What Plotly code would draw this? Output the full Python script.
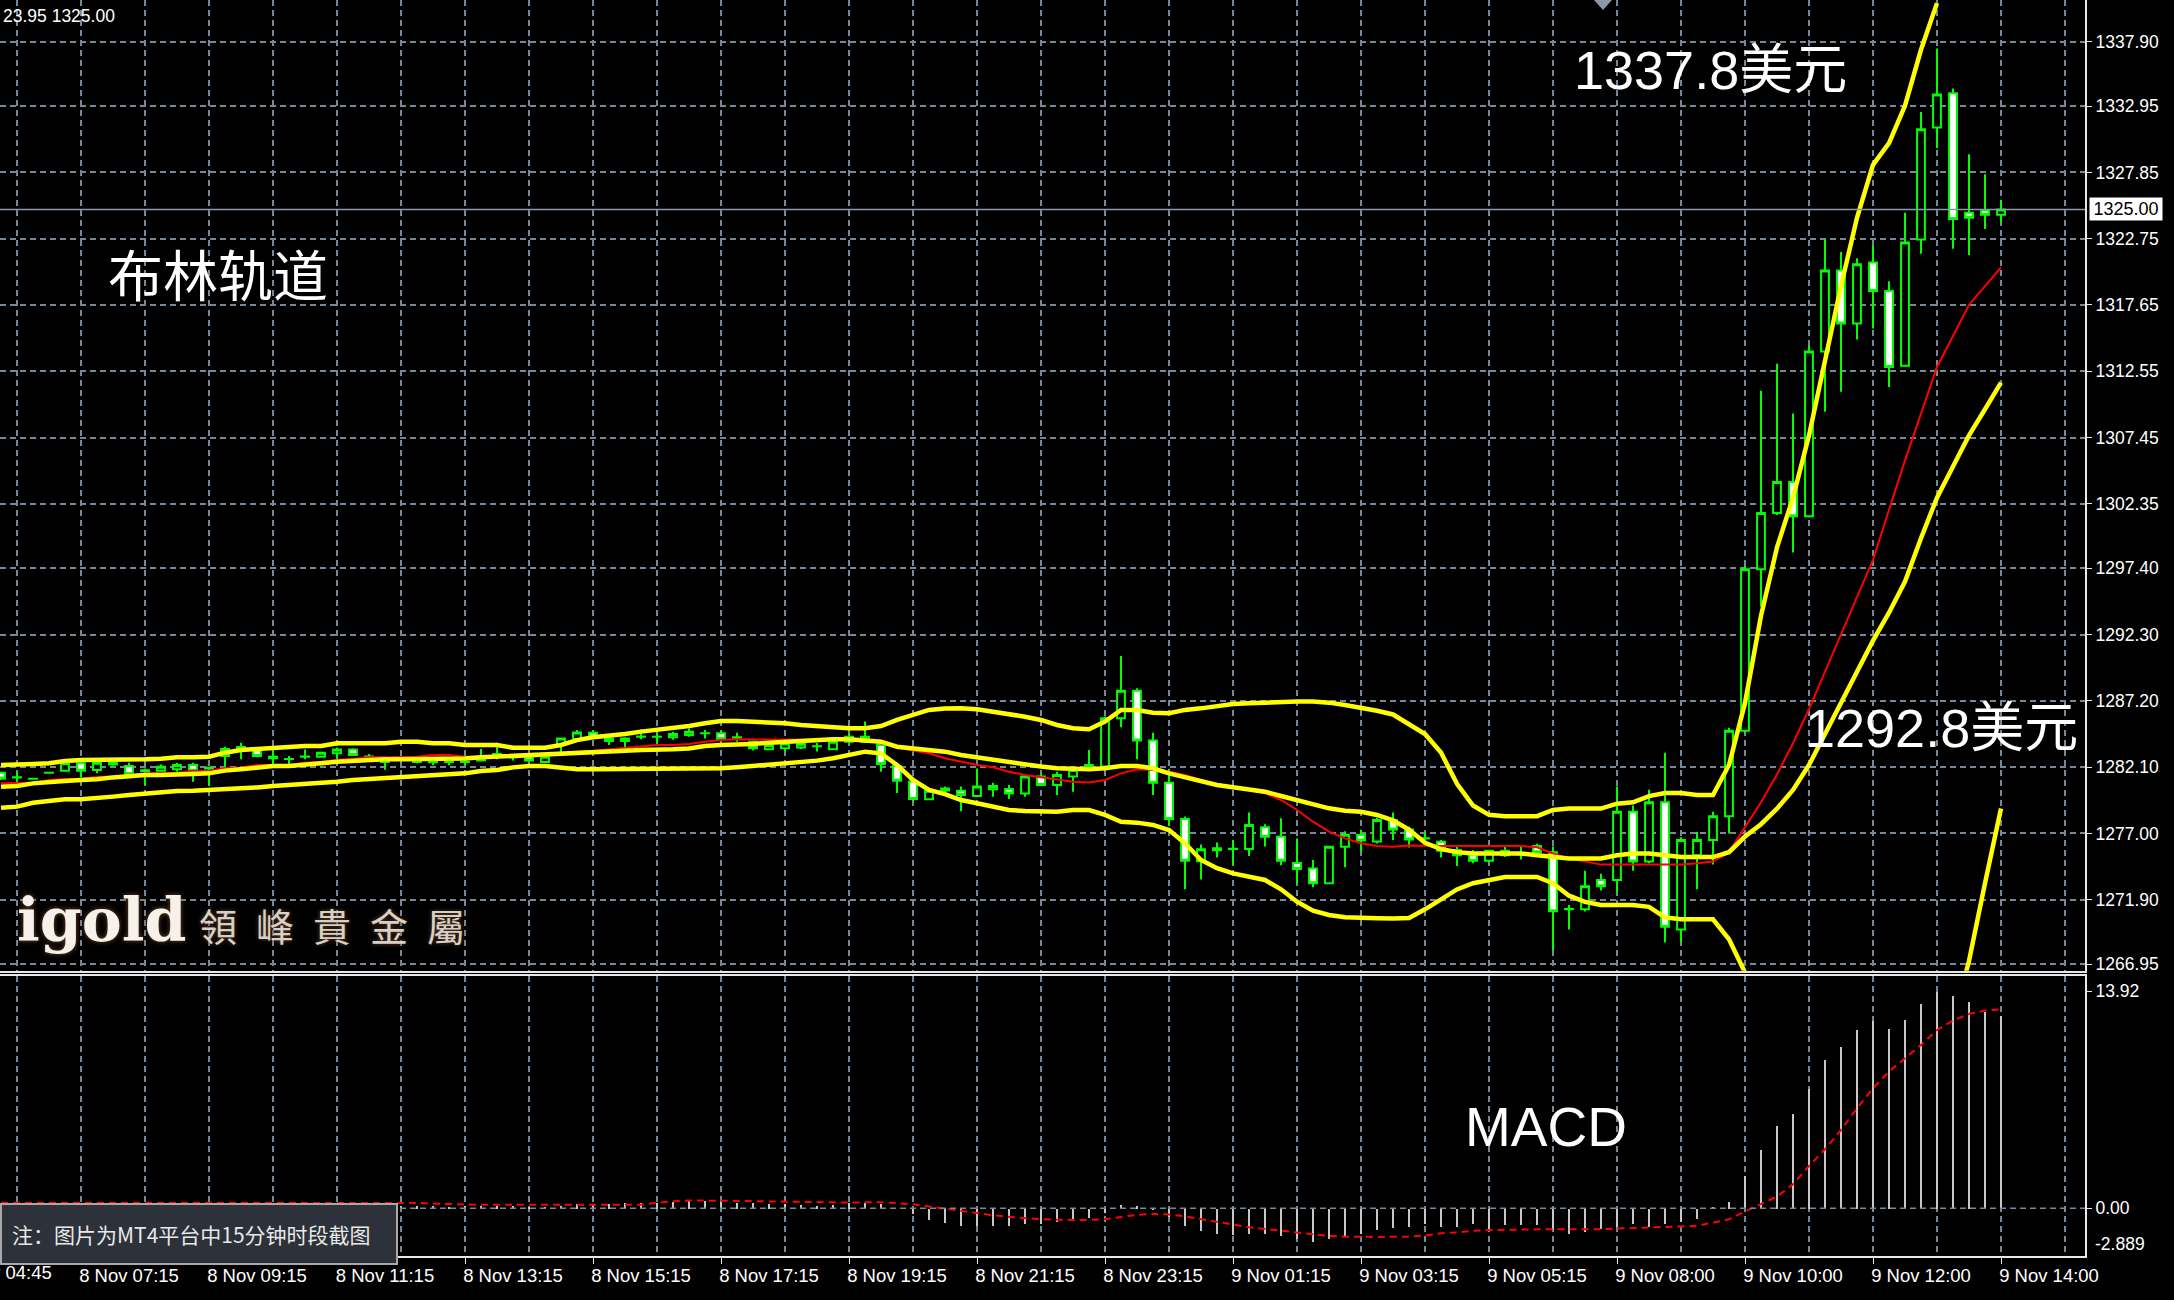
import plotly.graph_objects as go

W, H = 2174, 1300

# ---------------- data (15-minute bars, index 0..125) ----------------
opens = [1281.67,1281.30,1281.21,1281.67,1281.82,1282.39,1281.88,1282.30,1282.18,1281.85,
         1281.82,1281.93,1282.26,1282.00,1282.95,1283.50,1283.40,1282.90,1282.72,1282.90,
         1282.90,1283.16,1283.46,1282.90,1282.60,1282.70,1282.50,1282.50,1282.50,1282.50,
         1282.60,1283.10,1282.90,1282.90,1282.50,1283.80,1284.26,1284.74,1284.10,1284.10,
         1284.44,1284.44,1284.40,1284.57,1284.70,1284.70,1284.40,1284.06,1283.47,1283.55,
         1283.60,1283.70,1283.47,1284.06,1284.06,1283.80,1282.19,1281.00,1279.62,1280.30,
         1280.29,1279.88,1280.40,1280.42,1280.08,1281.37,1280.73,1281.37,1282.00,1282.14,
         1285.86,1287.98,1284.14,1280.90,1278.10,1274.85,1275.70,1275.80,1275.80,1277.47,
         1276.75,1274.72,1274.30,1273.16,1275.98,1276.88,1276.37,1278.03,1277.31,1276.60,
         1276.36,1275.72,1275.33,1274.90,1275.66,1275.40,1276.04,1275.56,1271.16,1271.16,
         1273.41,1273.41,1278.67,1274.84,1279.39,1269.60,1275.32,1276.50,1278.33,1284.89,
         1297.33,1301.64,1304.03,1301.40,1314.08,1320.30,1316.23,1320.92,1318.72,1312.98,
         1322.69,1331.30,1333.93,1324.75,1324.93,1324.60]
highs = [1281.75,1281.75,1281.25,1281.70,1282.70,1282.45,1282.50,1282.60,1282.44,1282.00,
         1282.30,1282.44,1282.44,1282.13,1283.67,1283.98,1283.60,1283.40,1282.95,1283.46,
         1283.25,1283.60,1283.55,1283.10,1282.65,1282.85,1282.60,1282.75,1282.75,1283.05,
         1283.50,1283.98,1283.10,1283.00,1282.95,1284.35,1284.95,1284.95,1284.40,1284.40,
         1285.00,1284.83,1284.83,1285.08,1284.95,1284.95,1284.75,1284.15,1283.85,1284.20,
         1284.00,1283.95,1284.10,1284.70,1285.60,1284.06,1282.30,1281.10,1280.40,1280.60,
         1280.60,1282.00,1280.90,1280.73,1281.50,1281.62,1281.75,1282.10,1283.42,1286.00,
         1290.65,1288.16,1284.75,1281.95,1278.30,1276.15,1276.30,1276.50,1278.60,1277.70,
         1278.16,1276.60,1274.96,1276.00,1277.17,1277.28,1278.20,1278.60,1277.51,1277.10,
         1276.50,1276.00,1275.72,1275.70,1275.95,1276.08,1276.20,1276.00,1271.50,1274.13,
         1273.90,1280.60,1279.15,1280.35,1283.20,1276.70,1277.10,1278.67,1285.13,1297.57,
         1311.06,1313.12,1309.30,1314.55,1322.70,1321.73,1321.25,1322.20,1319.48,1324.75,
         1332.50,1337.38,1334.30,1329.24,1327.70,1325.70]
lows = [1281.10,1280.98,1281.15,1281.62,1281.80,1281.31,1281.62,1282.20,1281.55,1280.70,
        1281.80,1281.75,1280.98,1280.65,1282.10,1282.70,1282.90,1282.34,1282.34,1282.70,
        1282.85,1282.70,1282.98,1282.75,1281.90,1282.55,1282.40,1282.25,1282.25,1282.25,
        1282.55,1282.70,1282.60,1282.55,1282.45,1283.00,1284.20,1284.40,1283.80,1283.55,
        1284.24,1283.80,1284.20,1284.44,1284.30,1284.20,1284.05,1283.37,1283.40,1283.30,
        1283.50,1283.30,1283.40,1283.95,1283.95,1281.75,1280.10,1279.45,1279.55,1280.10,
        1278.70,1279.82,1279.82,1279.65,1279.82,1280.65,1279.96,1280.20,1281.95,1282.00,
        1285.16,1282.70,1279.96,1277.60,1272.70,1273.46,1275.15,1274.55,1275.26,1276.00,
        1274.55,1273.12,1272.85,1273.10,1274.40,1275.62,1276.23,1276.49,1275.92,1276.28,
        1275.15,1274.49,1274.70,1274.80,1275.18,1275.00,1275.50,1268.00,1269.60,1271.00,
        1272.60,1272.45,1274.13,1274.70,1268.60,1268.60,1272.70,1274.60,1277.00,1284.70,
        1294.46,1301.50,1298.60,1301.30,1309.44,1310.97,1315.00,1315.85,1311.35,1312.90,
        1321.60,1329.72,1321.97,1321.49,1323.50,1323.98]
closes = [1281.23,1281.32,1281.20,1281.66,1282.39,1281.82,1282.44,1282.45,1281.57,1281.80,
          1282.13,1282.26,1281.82,1282.05,1283.50,1283.65,1282.95,1282.78,1282.73,1282.91,
          1283.20,1283.46,1283.03,1282.91,1282.50,1282.72,1282.52,1282.48,1282.53,1282.52,
          1282.70,1283.11,1282.85,1282.60,1282.90,1284.30,1284.77,1284.44,1284.30,1284.30,
          1284.45,1284.43,1284.65,1284.83,1284.71,1284.26,1284.35,1283.55,1283.80,1283.92,
          1283.90,1283.71,1284.06,1284.44,1284.44,1282.34,1281.06,1279.65,1280.29,1280.45,
          1279.96,1280.60,1280.65,1280.08,1281.37,1280.73,1281.50,1281.88,1282.26,1285.86,
          1287.98,1284.14,1280.90,1278.10,1274.90,1275.78,1275.85,1275.82,1277.65,1276.75,
          1274.90,1274.27,1273.16,1275.98,1276.90,1276.46,1278.03,1277.31,1276.54,1276.62,
          1275.67,1275.33,1274.90,1275.67,1275.32,1275.42,1275.56,1271.02,1271.18,1272.93,
          1272.93,1278.67,1274.84,1279.39,1269.82,1276.50,1276.50,1278.33,1284.89,1297.33,
          1301.64,1304.03,1301.40,1314.08,1320.30,1316.23,1320.78,1318.72,1312.88,1322.45,
          1331.16,1333.84,1324.27,1324.36,1324.60,1325.00]

bb_upper = [1282.26,1282.26,1282.34,1282.39,1282.57,1282.65,1282.65,1282.70,1282.70,1282.70,
            1282.75,1282.85,1282.85,1282.90,1283.21,1283.42,1283.49,1283.57,1283.59,1283.72,
            1283.72,1283.93,1283.93,1283.93,1283.93,1284.06,1284.06,1283.93,1283.93,1283.80,
            1283.80,1283.80,1283.59,1283.59,1283.59,1283.80,1284.18,1284.39,1284.49,1284.65,
            1284.83,1284.95,1285.08,1285.26,1285.47,1285.65,1285.65,1285.60,1285.52,1285.47,
            1285.34,1285.26,1285.14,1285.09,1285.09,1285.26,1285.73,1286.11,1286.50,1286.60,
            1286.62,1286.55,1286.37,1286.19,1285.98,1285.73,1285.34,1285.09,1285.01,1285.60,
            1286.50,1286.50,1286.29,1286.24,1286.50,1286.62,1286.80,1286.96,1287.01,1287.06,
            1287.14,1287.14,1287.14,1287.06,1286.88,1286.70,1286.44,1286.15,1285.40,1284.65,
            1283.22,1280.82,1279.15,1278.43,1278.33,1278.33,1278.33,1278.81,1278.91,1278.91,
            1278.91,1279.29,1279.39,1279.87,1280.11,1280.11,1279.96,1279.96,1282.26,1287.04,
            1293.74,1299.00,1302.83,1307.62,1313.36,1319.10,1324.36,1328.43,1330.10,1332.98,
            1337.28,1340.87,None,None,None,None]
bb_middle = [1280.59,1280.65,1280.85,1280.98,1281.03,1281.11,1281.16,1281.31,1281.42,1281.49,
             1281.49,1281.49,1281.57,1281.62,1281.83,1281.93,1282.08,1282.18,1282.18,1282.26,
             1282.39,1282.52,1282.59,1282.65,1282.70,1282.70,1282.70,1282.70,1282.70,1282.77,
             1282.85,1282.90,1283.00,1283.00,1283.03,1283.11,1283.16,1283.21,1283.29,1283.36,
             1283.42,1283.42,1283.47,1283.54,1283.73,1283.80,1283.83,1283.88,1283.98,1284.06,
             1284.14,1284.19,1284.24,1284.24,1284.19,1284.06,1283.67,1283.55,1283.42,1283.29,
             1283.03,1282.85,1282.70,1282.44,1282.34,1282.14,1282.01,1281.93,1281.93,1282.01,
             1282.19,1282.19,1282.01,1281.62,1281.32,1280.98,1280.73,1280.55,1280.39,1280.21,
             1279.88,1279.57,1279.26,1278.93,1278.75,1278.67,1278.42,1278.00,1277.30,1276.28,
             1275.80,1275.56,1275.46,1275.46,1275.46,1275.46,1275.32,1275.18,1275.08,1275.08,
             1275.08,1275.32,1275.46,1275.46,1275.32,1275.18,1275.18,1275.18,1275.56,1276.76,
             1277.71,1278.91,1280.35,1282.26,1284.65,1287.04,1289.44,1291.83,1293.98,1296.37,
             1299.70,1302.83,1305.23,1307.62,1309.63,1311.68]
bb_lower = [1278.98,1279.06,1279.36,1279.52,1279.62,1279.62,1279.70,1279.83,1279.95,1280.08,
            1280.21,1280.26,1280.29,1280.34,1280.39,1280.47,1280.54,1280.65,1280.72,1280.80,
            1280.90,1280.98,1281.11,1281.18,1281.24,1281.36,1281.42,1281.49,1281.57,1281.62,
            1281.80,1281.88,1282.08,1282.18,1282.18,1282.08,1281.93,1281.93,1281.93,1281.93,
            1281.93,1281.93,1281.93,1281.93,1281.93,1282.01,1282.09,1282.19,1282.29,1282.39,
            1282.50,1282.60,1282.78,1283.03,1283.29,1283.16,1282.27,1281.11,1280.34,1280.03,
            1279.57,1279.32,1279.06,1278.80,1278.73,1278.67,1278.67,1278.80,1278.80,1278.42,
            1277.90,1277.83,1277.65,1277.26,1276.24,1274.96,1274.32,1273.93,1273.67,1273.42,
            1272.70,1271.75,1271.06,1270.73,1270.55,1270.55,1270.47,1270.45,1270.50,1271.16,
            1271.97,1272.69,1273.17,1273.41,1273.65,1273.65,1273.65,1273.17,1272.21,1271.73,
            1271.49,1271.49,1271.49,1271.35,1270.54,1270.39,1270.39,1270.39,1268.86,1266.30,
            None,None,None,None,None,None,None,None,None,None,
            None,None,1262.50,1267.19,1273.17,1278.91]
ma_red = [1280.85,1280.90,1280.90,1281.11,1281.18,1281.18,1281.36,1281.36,1281.49,1281.62,
          1281.62,1281.67,1281.83,1281.83,1282.01,1282.08,1282.26,1282.26,1282.26,1282.44,
          1282.49,1282.65,1282.75,1282.85,1282.85,1282.90,1282.90,1283.03,1283.03,1282.90,
          1282.90,1282.90,1282.95,1282.95,1282.95,1283.16,1283.29,1283.36,1283.47,1283.54,
          1283.67,1283.80,1283.80,1283.87,1284.06,1284.19,1284.24,1284.24,1284.24,1284.24,
          1284.24,1284.19,1284.19,1284.19,1284.19,1283.93,1283.62,1283.37,1283.16,1282.78,
          1282.52,1282.27,1282.09,1281.75,1281.50,1281.32,1281.16,1280.98,1280.91,1281.11,
          1281.62,1281.93,1281.88,1281.75,1281.50,1281.11,1280.80,1280.60,1280.34,1280.09,
          1279.57,1278.80,1277.90,1277.14,1276.62,1276.24,1276.03,1275.98,1276.08,1276.04,
          1276.04,1276.04,1276.04,1276.04,1276.04,1276.04,1275.94,1275.46,1275.08,1274.84,
          1274.60,1274.60,1274.60,1274.60,1274.60,1274.60,1274.70,1274.84,1275.56,1277.47,
          1279.39,1281.54,1283.93,1286.56,1289.44,1292.31,1295.18,1298.05,1301.88,1305.70,
          1309.29,1312.88,1315.27,1317.67,1319.10,1320.54]

macd_hist = [0.25,0.25,0.25,0.25,0.25,0.25,0.25,0.25,0.25,0.25,
             0.25,0.25,0.25,0.25,0.25,0.25,0.25,0.25,0.25,0.25,
             0.25,0.25,0.25,0.25,0.25,0.15,0.18,0.15,0.12,0.15,
             0.18,0.20,0.15,0.12,0.12,0.20,0.30,0.30,0.30,0.35,
             0.40,0.40,0.45,0.50,0.50,0.45,0.40,0.35,0.30,0.30,
             0.25,0.20,0.25,0.35,0.40,0.30,0.00,-0.35,-0.70,-0.90,
             -1.10,-1.10,-1.10,-1.10,-1.00,-0.95,-0.85,-0.75,-0.60,-0.25,
             0.25,0.20,-0.10,-0.55,-1.10,-1.40,-1.60,-1.70,-1.60,-1.60,
             -1.75,-1.95,-2.10,-1.95,-1.75,-1.60,-1.35,-1.25,-1.18,-0.96,
             -1.18,-1.18,-0.96,-1.28,-1.07,-1.07,-1.07,-1.39,-1.60,-1.50,
             -1.28,-1.18,-0.96,-1.18,-0.96,-0.85,-0.64,0.11,0.43,2.07,
             3.74,5.28,6.05,7.69,9.51,10.40,11.43,12.03,11.54,12.07,
             13.10,13.92,13.61,13.23,12.61,12.33]
macd_signal = [0.36,0.36,0.36,0.36,0.36,0.36,0.36,0.36,0.36,0.36,
               0.36,0.36,0.36,0.36,0.36,0.36,0.36,0.36,0.36,0.36,
               0.36,0.36,0.36,0.36,0.36,0.36,0.34,0.30,0.26,0.22,
               0.22,0.22,0.22,0.22,0.22,0.22,0.22,0.22,0.22,0.22,
               0.22,0.35,0.45,0.50,0.50,0.50,0.48,0.46,0.44,0.42,
               0.40,0.38,0.37,0.37,0.38,0.38,0.33,0.25,0.12,-0.02,
               -0.18,-0.32,-0.45,-0.55,-0.63,-0.70,-0.74,-0.76,-0.75,-0.70,
               -0.55,-0.42,-0.37,-0.40,-0.52,-0.70,-0.90,-1.08,-1.22,-1.33,
               -1.44,-1.56,-1.68,-1.77,-1.82,-1.84,-1.84,-1.83,-1.82,-1.75,
               -1.60,-1.55,-1.45,-1.40,-1.37,-1.35,-1.35,-1.35,-1.36,-1.36,
               -1.34,-1.30,-1.27,-1.24,-1.22,-1.18,-1.13,-0.92,-0.71,-0.21,
               0.28,0.75,1.54,2.71,3.78,5.02,6.41,7.69,8.76,9.62,
               10.47,11.43,12.03,12.46,12.67,12.76]

bars = list(range(len(closes)))
current_price = 1325.00

price_ticks = [1337.90, 1332.95, 1327.85, 1322.75, 1317.65, 1312.55, 1307.45,
               1302.35, 1297.40, 1292.30, 1287.20, 1282.10, 1277.00, 1271.90, 1266.95]
price_tick_text = ["1337.90", "1332.95", "1327.85", "1322.75", "1317.65", "1312.55", "1307.45",
                   "1302.35", "1297.40", "1292.30", "1287.20", "1282.10", "1277.00", "1271.90", "1266.95"]
macd_ticks = [13.92, 0.0]
macd_tick_text = ["13.92", "0.00"]
macd_min_label = -2.889

time_tick_bars = [5, 13, 21, 29, 37, 45, 53, 61, 69, 77, 85, 93, 101, 109, 117, 125]
time_tick_text = ["8 Nov 07:15", "8 Nov 09:15", "8 Nov 11:15", "8 Nov 13:15", "8 Nov 15:15",
                  "8 Nov 17:15", "8 Nov 19:15", "8 Nov 21:15", "8 Nov 23:15", "9 Nov 01:15",
                  "9 Nov 03:15", "9 Nov 05:15", "9 Nov 08:00", "9 Nov 10:00", "9 Nov 12:00",
                  "9 Nov 14:00"]
first_time_label = "8 Nov 04:45"
grid_bars_minor = [1 + 8 * k for k in range(16)] + [129]

# ---------------- styling ----------------
GRID = "#778899"
AXIS = "#e8e8e8"
TXT = "#ffffff"
TICKFONT = dict(family="Liberation Sans, Arial, sans-serif", size=17.5, color=TXT)

x_right = 2085 / W
main_bottom = (H - 970.7) / H
macd_top = (H - 975.5) / H
macd_bottom = 44 / H


def px(x):
    return x / W


def py(y):
    return 1 - y / H


fig = go.Figure()

fig.add_trace(go.Candlestick(
    x=bars, open=opens, high=highs, low=lows, close=closes,
    xaxis="x", yaxis="y",
    increasing=dict(line=dict(color="#00ff00", width=2), fillcolor="#000000"),
    decreasing=dict(line=dict(color="#00ff00", width=2), fillcolor="#ffffff"),
    whiskerwidth=0, hoverinfo="skip", showlegend=False,
))
fig.add_trace(go.Scatter(x=bars, y=ma_red, mode="lines", xaxis="x", yaxis="y",
                         line=dict(color="#ff0000", width=2), hoverinfo="skip", showlegend=False))
for band in (bb_upper, bb_middle, bb_lower):
    fig.add_trace(go.Scatter(x=bars, y=band, mode="lines", xaxis="x", yaxis="y",
                             line=dict(color="#ffff00", width=4.5), connectgaps=False,
                             hoverinfo="skip", showlegend=False))

fig.add_trace(go.Bar(x=bars, y=macd_hist, xaxis="x2", yaxis="y2", width=0.13,
                     marker=dict(color="#c8c8c8", line=dict(width=0)),
                     hoverinfo="skip", showlegend=False))
fig.add_trace(go.Scatter(x=bars, y=macd_signal, mode="lines", xaxis="x2", yaxis="y2",
                         line=dict(color="#ff0000", width=2, dash="7px,5px"),
                         hoverinfo="skip", showlegend=False))

grid_common = dict(showgrid=True, gridcolor=GRID, gridwidth=1.5, griddash="6px,4px")
minor_grid = dict(tickvals=grid_bars_minor, showgrid=True, gridcolor=GRID,
                  gridwidth=1.5, griddash="6px,4px", ticks="")

fig.update_layout(
    width=W, height=H, autosize=False,
    margin=dict(l=0, r=0, t=0, b=0, pad=0),
    paper_bgcolor="#000000", plot_bgcolor="#000000",
    showlegend=False, hovermode=False,
    bargap=0,
    xaxis=dict(domain=[0, x_right], range=[-0.0625, 130.25], anchor="y",
               tickvals=time_tick_bars, showticklabels=False, ticks="",
               minor=minor_grid, showline=True, linecolor=AXIS, linewidth=2,
               mirror=True, zeroline=False, rangeslider=dict(visible=False),
               automargin=False, **grid_common),
    yaxis=dict(domain=[main_bottom, 1], range=[1266.44, 1341.11], anchor="x",
               side="right", tickvals=price_ticks, ticktext=price_tick_text,
               tickfont=TICKFONT, ticks="outside", ticklen=5, tickcolor=AXIS,
               showline=True, linecolor=AXIS, linewidth=2, zeroline=False,
               automargin=False, **grid_common),
    xaxis2=dict(domain=[0, x_right], range=[-0.0625, 130.25], anchor="y2",
                matches="x", tickvals=time_tick_bars, ticktext=time_tick_text,
                tickfont=dict(family="Liberation Sans, Arial, sans-serif", size=18.5, color=TXT),
                ticklabelshift=48, ticklabelstandoff=-4, ticks="outside", ticklen=6,
                tickcolor=AXIS, minor=minor_grid, showline=True, linecolor=AXIS, linewidth=2,
                mirror=True, zeroline=False, automargin=False, **grid_common),
    yaxis2=dict(domain=[macd_bottom, macd_top], range=[-3.06, 14.92], anchor="x2",
                side="right", tickvals=macd_ticks, ticktext=macd_tick_text,
                tickfont=TICKFONT, ticks="outside", ticklen=5, tickcolor=AXIS,
                showgrid=False, showline=True, linecolor=AXIS, linewidth=2,
                zeroline=False, automargin=False),
)

shapes = [
    # current price line
    dict(type="line", xref="paper", x0=0, x1=x_right, yref="y",
         y0=current_price, y1=current_price, line=dict(color="#8a98a8", width=1.5)),
    # MACD zero level
    dict(type="line", xref="paper", x0=0, x1=x_right, yref="y2", y0=0, y1=0,
         line=dict(color=GRID, width=1.5, dash="6px,4px")),
    # chart-shift marker
    dict(type="path", xref="paper", yref="paper",
         path=f"M {px(1594)} {py(0)} L {px(1612)} {py(0)} L {px(1603)} {py(10)} Z",
         fillcolor="#8c9aa8", line=dict(width=0)),
]
fig.update_layout(shapes=shapes)

CJK = "Liberation Sans, Noto Sans CJK SC, sans-serif"
annotations = [
    dict(text="23.95 1325.00", xref="paper", yref="paper", x=px(1), y=py(16),
         xanchor="left", yanchor="middle", showarrow=False,
         font=dict(family="Liberation Sans, Arial, sans-serif", size=17.5, color=TXT)),
    dict(text="布林轨道", xref="paper", yref="paper", x=px(218), y=py(272),
         xanchor="center", yanchor="middle", showarrow=False,
         font=dict(family="Noto Sans CJK SC, sans-serif", size=55, color=TXT)),
    dict(text="1337.8美元", xref="paper", yref="paper", x=px(1710), y=py(70),
         xanchor="center", yanchor="middle", showarrow=False,
         font=dict(family=CJK, size=54, color=TXT)),
    dict(text="1292.8美元", xref="paper", yref="paper", x=px(1941), y=py(728),
         xanchor="center", yanchor="middle", showarrow=False,
         font=dict(family=CJK, size=54, color=TXT)),
    dict(text="MACD", xref="paper", yref="paper", x=px(1546), y=py(1127),
         xanchor="center", yanchor="middle", showarrow=False,
         font=dict(family="Liberation Sans, Arial, sans-serif", size=55, color=TXT)),
    dict(text="igold", xref="paper", yref="paper", x=px(15), y=py(920),
         xanchor="left", yanchor="middle", showarrow=False,
         font=dict(family="DejaVu Serif, serif", size=60, color="#f6f1ea",
                   weight="bold", shadow="0px 0px 5px #7a4a22")),
    dict(text="領\u2002峰\u2002貴\u2002金\u2002屬", xref="paper", yref="paper",
         x=px(197), y=py(924), xanchor="left", yanchor="middle", showarrow=False,
         font=dict(family="Noto Sans CJK TC, sans-serif", size=38, color="#d6d0ca",
                   shadow="0px 0px 4px #6a4020")),
    dict(text="注：图片为MT4平台中15分钟时段截图", xref="paper", yref="paper",
         x=0, y=py(1234), xanchor="left", yanchor="middle", showarrow=False,
         align="left", width=374, height=38, borderpad=10,
         bgcolor="#2d3139", bordercolor="#a8a8a8", borderwidth=2,
         font=dict(family="Noto Sans CJK SC, sans-serif", size=21, color="#e8e8e8")),
    dict(text=first_time_label, xref="paper", yref="paper", x=px(54), y=py(1272),
         xanchor="right", yanchor="middle", showarrow=False,
         font=dict(family="Liberation Sans, Arial, sans-serif", size=18.5, color=TXT)),
    dict(text=f"{macd_min_label:.3f}", xref="paper", yref="y2", x=px(2093), y=macd_min_label,
         xanchor="left", yanchor="middle", yshift=9, showarrow=False,
         font=TICKFONT),
    dict(text=f"{current_price:.2f}", xref="paper", yref="y", x=px(2089), y=current_price,
         xanchor="left", yanchor="middle", showarrow=False, bgcolor="#ffffff",
         width=70, align="center", borderpad=1,
         font=dict(family="Liberation Sans, Arial, sans-serif", size=18, color="#000000")),
]
fig.update_layout(annotations=annotations)

page_css = ("var de=document.documentElement,b=document.body;"
            "de.style.margin='0';de.style.padding='0';de.style.overflow='hidden';"
            "b.style.margin='0';b.style.padding='0';b.style.overflow='hidden';"
            "b.style.width='2174px';b.style.height='1300px';")
fig.write_html("out.html", post_script=page_css,
               config={"displayModeBar": False, "responsive": False})
